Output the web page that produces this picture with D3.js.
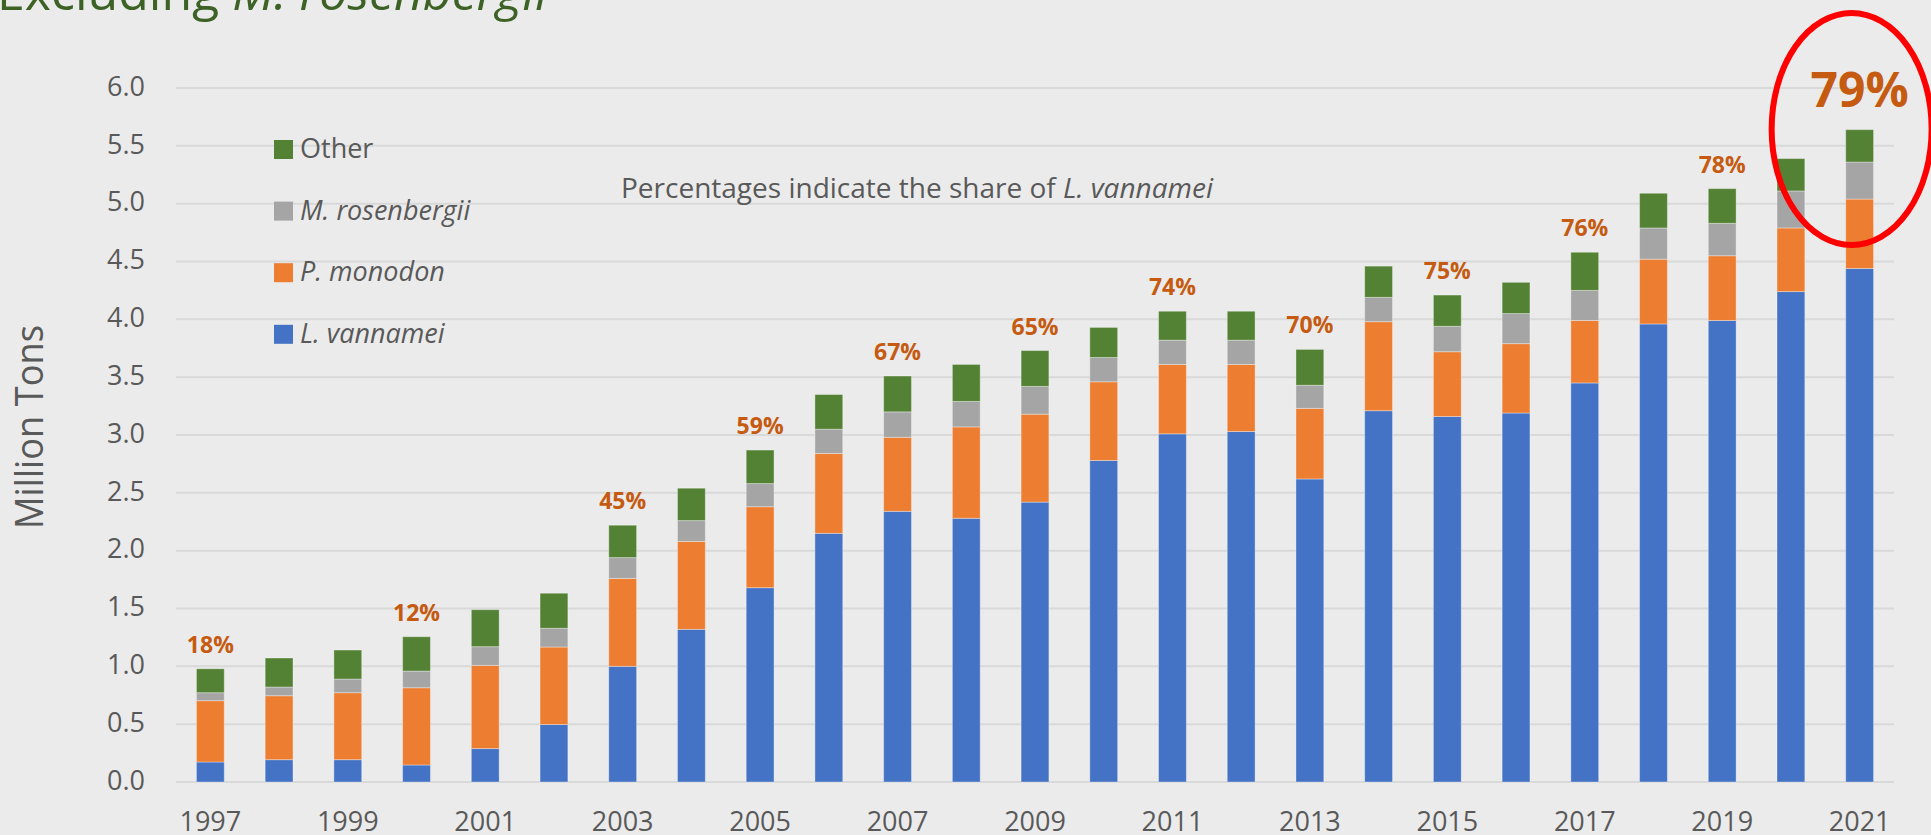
<!DOCTYPE html>
<html>
<head>
<meta charset="utf-8">
<script src="https://cdn.jsdelivr.net/npm/d3@7"></script>
<style>
  body { margin: 0; background: #ebebeb; }
  svg { display: block; font-family: "Open Sans", "Noto Sans", sans-serif; }
</style>
</head>
<body>
<div id="chart"></div>
<script>
//chart data (million tons)
var years = ["1997", "1998", "1999", "2000", "2001", "2002", "2003", "2004", "2005", "2006", "2007", "2008", "2009",
    "2010", "2011", "2012", "2013", "2014", "2015", "2016", "2017", "2018", "2019", "2020", "2021"];

var vannamei = [0.173, 0.193, 0.193, 0.147, 0.289, 0.497, 1.00, 1.32, 1.68, 2.15, 2.34, 2.28, 2.42,
    2.78, 3.01, 3.03, 2.62, 3.21, 3.16, 3.19, 3.45, 3.96, 3.99, 4.24, 4.44];
var monodon = [0.530, 0.553, 0.579, 0.668, 0.719, 0.670, 0.76, 0.76, 0.70, 0.69, 0.64, 0.79, 0.76,
    0.68, 0.60, 0.58, 0.61, 0.77, 0.56, 0.60, 0.54, 0.56, 0.56, 0.55, 0.60];
var rosenbergii = [0.069, 0.075, 0.118, 0.144, 0.162, 0.162, 0.18, 0.18, 0.20, 0.21, 0.22, 0.22, 0.24,
    0.21, 0.21, 0.21, 0.20, 0.21, 0.22, 0.26, 0.26, 0.27, 0.28, 0.32, 0.32];
var other = [0.207, 0.251, 0.251, 0.297, 0.320, 0.303, 0.28, 0.28, 0.29, 0.30, 0.31, 0.32, 0.31,
    0.26, 0.25, 0.25, 0.31, 0.27, 0.27, 0.27, 0.33, 0.30, 0.30, 0.28, 0.28];

//share of L. vannamei written over some bars
var shareYears = ["1997", "2000", "2003", "2005", "2007", "2009", "2011", "2013", "2015", "2017", "2019", "2021"];
var shareText = ["18%", "12%", "45%", "59%", "67%", "65%", "74%", "70%", "75%", "76%", "78%", "79%"];

var yTicks = [0, 0.5, 1, 1.5, 2, 2.5, 3, 3.5, 4, 4.5, 5, 5.5, 6];

var seriesKeys = ["vannamei", "monodon", "rosenbergii", "other"];
var seriesColors = {
    vannamei: "#4472c4",
    monodon: "#ed7d31",
    rosenbergii: "#a5a5a5",
    other: "#548235"
};

//svg size
var svgWidth = 1931;
var svgHeight = 835;

//plot area borders
var plot = { left: 176, right: 1894, top: 88, bottom: 782 };

//build rows for the stack
var rows = years.map(function(y, i) {
    return {
        year: y,
        vannamei: vannamei[i],
        monodon: monodon[i],
        rosenbergii: rosenbergii[i],
        other: other[i]
    };
});

var svg = d3.select("#chart")
    .append("svg")
    .attr("width", svgWidth)
    .attr("height", svgHeight);

svg.append("rect")
    .attr("width", svgWidth)
    .attr("height", svgHeight)
    .attr("fill", "#ebebeb");

//scales
var xScale = d3.scaleBand()
    .domain(years)
    .range([plot.left, plot.right])
    .paddingInner(0.595)
    .paddingOuter(0.2975);

var yScale = d3.scaleLinear()
    .domain([0, 6])
    .range([plot.bottom, plot.top]);

//title, cut off at the top of the picture
var title = svg.append("text")
    .attr("x", -3)
    .attr("y", 10)
    .attr("font-size", "50px")
    .attr("fill", "#3d6226");
title.append("tspan").text("Excluding ");
title.append("tspan").attr("font-style", "italic").text("M. rosenbergii");

//gridlines
svg.append("g")
    .selectAll("line")
    .data(yTicks)
    .enter()
    .append("line")
    .attr("x1", plot.left)
    .attr("x2", plot.right)
    .attr("y1", d => yScale(d))
    .attr("y2", d => yScale(d))
    .attr("stroke", "#d9d9d9")
    .attr("stroke-width", 2);

//y axis labels
var leftAxis = d3.axisLeft(yScale)
    .tickValues(yTicks)
    .tickFormat(d3.format(".1f"))
    .tickSize(0)
    .tickPadding(31);

var yAxis = svg.append("g")
    .attr("transform", `translate(${plot.left}, 0)`)
    .call(leftAxis);
yAxis.select(".domain").remove();
yAxis.selectAll("text")
    .attr("font-family", "'Open Sans', sans-serif")
    .attr("font-size", "27px")
    .attr("fill", "#595959")
    .attr("dy", "0.27em");

//x axis labels, every second year
var bottomAxis = d3.axisBottom(xScale)
    .tickValues(years.filter((d, i) => i % 2 === 0))
    .tickSize(0)
    .tickPadding(30);

var xAxis = svg.append("g")
    .attr("transform", `translate(0, ${plot.bottom})`)
    .call(bottomAxis);
xAxis.select(".domain").remove();
xAxis.selectAll("text")
    .attr("font-family", "'Open Sans', sans-serif")
    .attr("font-size", "27px")
    .attr("fill", "#595959")
    .attr("dy", "0.71em");

//y axis title
svg.append("text")
    .attr("transform", "translate(43, 427) rotate(-90)")
    .attr("text-anchor", "middle")
    .attr("font-size", "39px")
    .attr("fill", "#595959")
    .attr("textLength", 204)
    .attr("lengthAdjust", "spacingAndGlyphs")
    .text("Million Tons");

//stacked bars
var stacked = d3.stack().keys(seriesKeys)(rows);

svg.append("g")
    .selectAll("g")
    .data(stacked)
    .enter()
    .append("g")
    .attr("fill", d => seriesColors[d.key])
    .selectAll("rect")
    .data(d => d)
    .enter()
    .append("rect")
    .attr("x", d => xScale(d.data.year))
    .attr("width", xScale.bandwidth())
    .attr("y", d => yScale(d[1]))
    .attr("height", d => yScale(d[0]) - yScale(d[1]))
    .attr("stroke", "rgba(255,255,255,0.35)")
    .attr("stroke-width", 1);

//totals for label placement
var totals = {};
rows.forEach(function(r) {
    totals[r.year] = r.vannamei + r.monodon + r.rosenbergii + r.other;
});

//share labels
var shares = shareYears.map((y, i) => ({ year: y, text: shareText[i] }));
var lastYear = years[years.length - 1];

svg.append("g")
    .selectAll("text")
    .data(shares)
    .enter()
    .append("text")
    .attr("x", d => xScale(d.year) + xScale.bandwidth() / 2)
    .attr("y", d => d.year === lastYear ? yScale(totals[d.year]) - 23 : yScale(totals[d.year]) - 16)
    .attr("text-anchor", "middle")
    .attr("font-weight", "bold")
    .attr("font-size", d => d.year === lastYear ? "48px" : "23px")
    .attr("fill", "#c55a11")
    .text(d => d.text);

//red circle round the last bar
svg.append("ellipse")
    .attr("cx", xScale(lastYear) + xScale.bandwidth() / 2 - 8)
    .attr("cy", 129)
    .attr("rx", 80)
    .attr("ry", 116)
    .attr("fill", "none")
    .attr("stroke", "#ff0000")
    .attr("stroke-width", 6);

//note
var note = svg.append("text")
    .attr("x", 621)
    .attr("y", 198)
    .attr("font-size", "28px")
    .attr("fill", "#595959");
note.append("tspan").text("Percentages indicate the share of ");
note.append("tspan").attr("font-style", "italic").text("L. vannamei");

//legend, top entry is the top of the stack
var legendItems = [
    { key: "other", label: "Other", italic: false },
    { key: "rosenbergii", label: "M. rosenbergii", italic: true },
    { key: "monodon", label: "P. monodon", italic: true },
    { key: "vannamei", label: "L. vannamei", italic: true }
];

var legend = svg.append("g")
    .selectAll("g")
    .data(legendItems)
    .enter()
    .append("g")
    .attr("transform", (d, i) => `translate(274, ${140 + i * 61.6})`);

legend.append("rect")
    .attr("width", 19)
    .attr("height", 19)
    .attr("fill", d => seriesColors[d.key]);

legend.append("text")
    .attr("x", 26)
    .attr("y", 18)
    .attr("font-size", "27px")
    .attr("font-style", d => d.italic ? "italic" : "normal")
    .attr("fill", "#595959")
    .text(d => d.label);
</script>
</body>
</html>
